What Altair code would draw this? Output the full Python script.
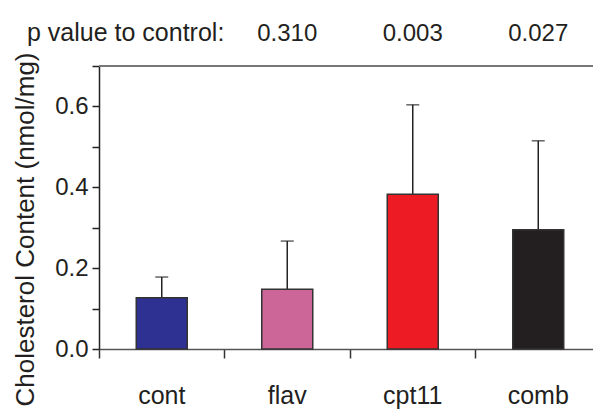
import altair as alt
import pandas as pd

groups = ["cont", "flav", "cpt11", "comb"]
means = [0.127, 0.148, 0.383, 0.295]
errs = [0.051, 0.119, 0.221, 0.220]
pvals = ["", "0.310", "0.003", "0.027"]
colors = ["#2e3192", "#cc6699", "#ed1c24", "#231f20"]
y_ticks = [0.0, 0.1, 0.2, 0.3, 0.4, 0.5, 0.6, 0.7]

df = pd.DataFrame({"group": groups, "mean": means, "err": errs, "p": pvals})
df["upper"] = df["mean"] + df["err"]

FONT = "Liberation Sans"
TXT = "#231f20"
W, H = 502, 283

xenc = alt.X(
    "group:N",
    sort=groups,
    scale=alt.Scale(paddingInner=0, paddingOuter=0),
    axis=alt.Axis(
        title=None, labelAngle=0, labelFontSize=25, labelColor=TXT,
        tickSize=9, tickWidth=1.5, tickColor="#333", bandPosition=0,
        labelBaseline="alphabetic", labelPadding=45,
        domainColor="#555", domainWidth=1.5, grid=False,
    ),
)
yscale = alt.Scale(domain=[0, 0.7], nice=False, zero=True)
yaxis = alt.Axis(
    values=y_ticks,
    labelExpr="round(datum.value*10) % 2 == 0 ? format(datum.value, '.1f') : ''",
    labelFontSize=24, labelColor=TXT, labelPadding=4,
    tickSize=7, tickWidth=1.5, tickColor="#222",
    domainColor="#222", domainWidth=1.5, grid=False,
    title="Cholesterol Content (nmol/mg)", titleFontSize=26,
    titleFontWeight="normal", titleColor=TXT, titleAngle=270,
    titleBaseline="alphabetic", titleAlign="center",
    titleX=-66, titleY=163,
)

base = alt.Chart(df).encode(x=xenc)

bars = base.mark_bar(size=51, stroke="#333", strokeWidth=1.5).encode(
    y=alt.Y("mean:Q", scale=yscale, axis=yaxis),
    color=alt.Color("group:N", scale=alt.Scale(domain=groups, range=colors), legend=None),
)
err = base.mark_rule(strokeWidth=1.5, color="#222").encode(
    y=alt.Y("mean:Q"), y2="upper:Q"
)
cap = base.mark_tick(size=13, thickness=1.5, color="#222", orient="horizontal").encode(
    y=alt.Y("upper:Q")
)
top = alt.Chart(df).mark_rule(color="#777", strokeWidth=1.5).encode(y=alt.value(0))

ptext = base.transform_filter(alt.datum.p != "").mark_text(
    fontSize=24, baseline="alphabetic", color=TXT, font=FONT
).encode(text="p:N", y=alt.value(-25))

plabel = alt.Chart(pd.DataFrame({"t": ["p value to control:"]})).mark_text(
    align="left", baseline="alphabetic", fontSize=25, color=TXT, font=FONT
).encode(x=alt.value(-72), y=alt.value(-25), text="t:N")

chart = alt.layer(top, err, bars, cap, ptext, plabel).properties(
    width=W, height=H,
    autosize=alt.AutoSizeParams(type="none"),
    padding={"left": 91, "top": 58, "right": -8, "bottom": 60},
).configure(font=FONT).configure_view(stroke=None)

chart.save("out.html", embed_options={"renderer": "svg", "actions": False})
